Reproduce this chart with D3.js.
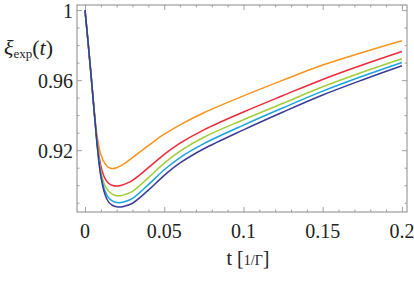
<!DOCTYPE html>
<html><head><meta charset="utf-8">
<script src="https://cdn.jsdelivr.net/npm/d3@7"></script>
<style>
html,body{margin:0;padding:0;background:#fff;}
svg{display:block;}
text{font-family:"Liberation Serif","DejaVu Serif",serif;fill:#222;}
</style></head>
<body>
<svg id="chart" width="414" height="281"></svg>
<script>
const tValues = [0, 0.002, 0.004, 0.006, 0.008, 0.01, 0.0125, 0.015, 0.0175, 0.02, 0.0225, 0.025, 0.03, 0.04, 0.05, 0.06, 0.075, 0.1, 0.125, 0.15, 0.175, 0.2];
const orangeSeries = [1, 0.981, 0.961, 0.941, 0.926, 0.9175, 0.9125, 0.910, 0.9095, 0.9100, 0.9110, 0.9124, 0.9158, 0.9226, 0.9291, 0.9345, 0.9414, 0.9510, 0.9600, 0.9686, 0.9758, 0.9825];
const redSeries    = [1, 0.981, 0.961, 0.940, 0.922, 0.911, 0.904, 0.901, 0.8998, 0.8995, 0.8998, 0.9006, 0.9028, 0.9100, 0.9176, 0.9240, 0.9316, 0.9418, 0.9512, 0.9604, 0.9686, 0.9763];
const greenSeries  = [1, 0.981, 0.961, 0.940, 0.921, 0.908, 0.900, 0.8965, 0.8948, 0.8940, 0.8940, 0.8946, 0.8965, 0.9043, 0.9126, 0.9195, 0.9274, 0.9374, 0.9468, 0.9562, 0.9645, 0.9722];
const blueSeries   = [1, 0.981, 0.961, 0.940, 0.920, 0.906, 0.897, 0.8927, 0.8909, 0.8901, 0.8901, 0.8906, 0.8925, 0.9003, 0.9088, 0.9158, 0.9237, 0.9343, 0.9442, 0.9537, 0.9622, 0.9701];
const navySeries   = [1, 0.981, 0.961, 0.940, 0.920, 0.905, 0.895, 0.8902, 0.8884, 0.8877, 0.8876, 0.8880, 0.8897, 0.8972, 0.9056, 0.9127, 0.9208, 0.9316, 0.9418, 0.9515, 0.9601, 0.9682];
const seriesColors = ["#f7941d", "#ee2a3a", "#a2cc3a", "#1aa3de", "#3b3a96"];
const xTickValues = [0, 0.05, 0.1, 0.15, 0.2];
const xTickLabels = ["0", "0.05", "0.1", "0.15", "0.2"];
const yTickValues = [1, 0.96, 0.92];
const yTickLabels = ["1", "0.96", "0.92"];

const allSeries = [orangeSeries, redSeries, greenSeries, blueSeries, navySeries];

const svg = d3.select("#chart");
const L = 77, R = 407, T = 5, B = 212;
const x = d3.scaleLinear().domain([-0.00505, 0.2032]).range([L, R]);
const y = d3.scaleLinear().domain([0.8847, 1.0029]).range([B, T]);

const xMinor = d3.range(0, 0.2001, 0.01).filter(v => !xTickValues.some(m => Math.abs(m - v) < 1e-9));
const yMinor = d3.range(0.89, 1.0001, 0.01).filter(v => !yTickValues.some(m => Math.abs(m - v) < 1e-9));

const axisColor = "#8a8a8a";
function styleAxis(g){
  g.select(".domain").remove();
  g.selectAll(".tick line").attr("stroke", axisColor).attr("stroke-width", 0.8);
  g.selectAll(".tick text").remove();
}
svg.append("g").attr("transform", `translate(0,${B})`).call(d3.axisBottom(x).tickValues(xTickValues).tickSize(-5)).call(styleAxis);
svg.append("g").attr("transform", `translate(0,${B})`).call(d3.axisBottom(x).tickValues(xMinor).tickSize(-2.5)).call(styleAxis);
svg.append("g").attr("transform", `translate(0,${T})`).call(d3.axisTop(x).tickValues(xTickValues).tickSize(-5)).call(styleAxis);
svg.append("g").attr("transform", `translate(0,${T})`).call(d3.axisTop(x).tickValues(xMinor).tickSize(-2.5)).call(styleAxis);
svg.append("g").attr("transform", `translate(${L},0)`).call(d3.axisLeft(y).tickValues(yTickValues).tickSize(-5)).call(styleAxis);
svg.append("g").attr("transform", `translate(${L},0)`).call(d3.axisLeft(y).tickValues(yMinor).tickSize(-2.5)).call(styleAxis);
svg.append("g").attr("transform", `translate(${R},0)`).call(d3.axisRight(y).tickValues(yTickValues).tickSize(-5)).call(styleAxis);
svg.append("g").attr("transform", `translate(${R},0)`).call(d3.axisRight(y).tickValues(yMinor).tickSize(-2.5)).call(styleAxis);

svg.append("rect").attr("x", L).attr("y", T).attr("width", R - L).attr("height", B - T)
  .attr("fill", "none").attr("stroke", axisColor).attr("stroke-width", 1);

svg.append("clipPath").attr("id", "clip").append("rect")
  .attr("x", L).attr("y", T).attr("width", R - L).attr("height", B - T);

const line = d3.line().x((d, i) => x(tValues[i])).y(d => y(d)).curve(d3.curveCatmullRom.alpha(0.5));
allSeries.forEach((s, i) => {
  svg.append("path").datum(s).attr("d", line).attr("fill", "none")
    .attr("stroke", seriesColors[i]).attr("stroke-width", 1.5).attr("clip-path", "url(#clip)");
});

// tick labels
svg.append("g").selectAll("text").data(xTickValues).join("text")
  .attr("x", d => x(d)).attr("y", 238).attr("text-anchor", "middle")
  .attr("font-size", 20).text((d, i) => xTickLabels[i]);
svg.append("g").selectAll("text").data(yTickValues).join("text")
  .attr("x", 73).attr("y", d => y(d) + 8).attr("text-anchor", "end")
  .attr("font-size", 20).text((d, i) => yTickLabels[i]);

// axis titles
const xt = svg.append("text").attr("x", 248).attr("y", 265).attr("text-anchor", "middle").attr("font-size", 20);
xt.append("tspan").text("t ");
xt.append("tspan").text("[");
xt.append("tspan").attr("font-size", 14).text("1/Γ");
xt.append("tspan").text("]");

const yt = svg.append("text").attr("x", 4).attr("y", 55).attr("font-size", 22);
yt.append("tspan").attr("font-style", "italic").text("ξ");
yt.append("tspan").attr("font-size", 13).attr("dy", 3).text("exp");
yt.append("tspan").attr("dy", -3).text("(");
yt.append("tspan").attr("font-style", "italic").text("t");
yt.append("tspan").text(")");
</script>
</body></html>
